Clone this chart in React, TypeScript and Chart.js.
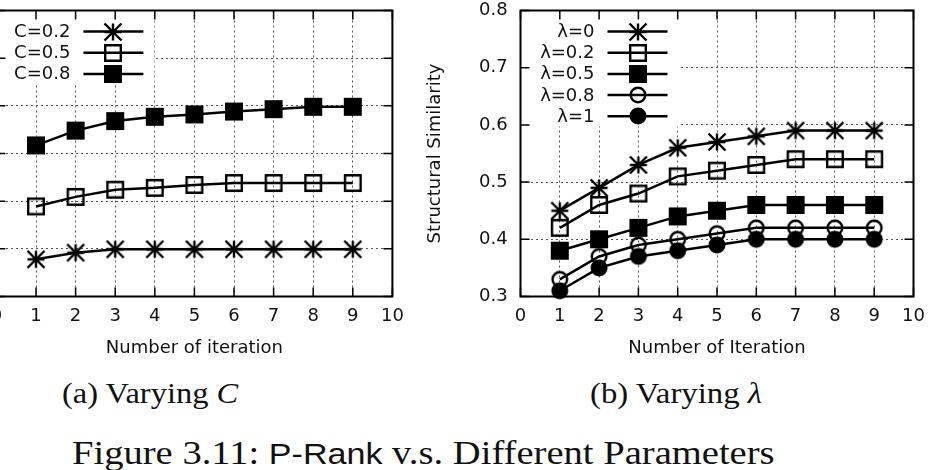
import React, { useEffect, useRef } from "react";
import { Chart, registerables } from "chart.js";

Chart.register(...registerables);
Chart.defaults.font.family = '"DejaVu Sans", sans-serif';
Chart.defaults.font.size = 18;
Chart.defaults.color = "#111";

// ---- data ----
const iterations = [1, 2, 3, 4, 5, 6, 7, 8, 9];
const iterationTicks = [0, 1, 2, 3, 4, 5, 6, 7, 8, 9, 10];

// (a) varying the decay factor C
const decayLabels = ["C=0.2", "C=0.5", "C=0.8"];
const simDecay02 = [0.278, 0.292, 0.299, 0.299, 0.299, 0.299, 0.299, 0.299, 0.299];
const simDecay05 = [0.389, 0.409, 0.424, 0.428, 0.434, 0.438, 0.438, 0.438, 0.438];
const simDecay08 = [0.517, 0.548, 0.568, 0.577, 0.582, 0.588, 0.593, 0.598, 0.598];
const decayTicks = [0.2, 0.3, 0.4, 0.5, 0.6, 0.7, 0.8];

// (b) varying the in/out-link weight lambda
const lambdaLabels = ["λ=0", "λ=0.2", "λ=0.5", "λ=0.8", "λ=1"];
const simLambda0 = [0.45, 0.49, 0.53, 0.56, 0.57, 0.58, 0.59, 0.59, 0.59];
const simLambda02 = [0.42, 0.46, 0.48, 0.51, 0.52, 0.53, 0.54, 0.54, 0.54];
const simLambda05 = [0.38, 0.4, 0.42, 0.44, 0.45, 0.46, 0.46, 0.46, 0.46];
const simLambda08 = [0.33, 0.37, 0.39, 0.4, 0.41, 0.42, 0.42, 0.42, 0.42];
const simLambda1 = [0.31, 0.35, 0.37, 0.38, 0.39, 0.4, 0.4, 0.4, 0.4];
const lambdaTicks = [0.3, 0.4, 0.5, 0.6, 0.7, 0.8];

// ---- gnuplot-like point symbols ----
type Marker = "star" | "box" | "boxFilled" | "ring" | "disc";

function markerImage(kind: Marker): HTMLCanvasElement {
  const size = 26;
  const c = size / 2;
  const cv = document.createElement("canvas");
  cv.width = size;
  cv.height = size;
  const g = cv.getContext("2d")!;
  g.strokeStyle = "#000";
  g.fillStyle = "#000";
  g.lineWidth = 2.4;
  g.beginPath();
  if (kind === "star") {
    const s = 8.5;
    g.moveTo(c - s, c);
    g.lineTo(c + s, c);
    g.moveTo(c, c - s);
    g.lineTo(c, c + s);
    g.moveTo(c - s, c - s);
    g.lineTo(c + s, c + s);
    g.moveTo(c - s, c + s);
    g.lineTo(c + s, c - s);
    g.stroke();
  } else if (kind === "box" || kind === "boxFilled") {
    const h = 7.8;
    g.rect(c - h, c - h, 2 * h, 2 * h);
    if (kind === "boxFilled") g.fill();
    g.stroke();
  } else {
    const r = 7.3;
    g.arc(c, c, r, 0, Math.PI * 2);
    if (kind === "disc") g.fill();
    g.stroke();
  }
  return cv;
}

// ---- frame, inward ticks and key, drawn the way gnuplot does ----
const ROW = 21.2;
const gnuplotFrame = {
  id: "gnuplotFrame",
  beforeDatasetsDraw(chart: any, _args: any, opts: any) {
    const { ctx, chartArea: a, scales } = chart;
    ctx.save();
    // the key area blanks the grid underneath it
    ctx.fillStyle = "#fff";
    ctx.fillRect(a.left, a.top, opts.keyWidth, opts.keyRows * ROW + 10);
    // inward tick marks on all four sides
    ctx.strokeStyle = "#000";
    ctx.lineWidth = 1.5;
    ctx.beginPath();
    const t = 9;
    for (const tk of scales.x.ticks) {
      const px = scales.x.getPixelForValue(tk.value);
      ctx.moveTo(px, a.bottom);
      ctx.lineTo(px, a.bottom - t);
      ctx.moveTo(px, a.top);
      ctx.lineTo(px, a.top + t);
    }
    for (const tk of scales.y.ticks) {
      const py = scales.y.getPixelForValue(tk.value);
      ctx.moveTo(a.left, py);
      ctx.lineTo(a.left + t, py);
      ctx.moveTo(a.right, py);
      ctx.lineTo(a.right - t, py);
    }
    ctx.stroke();
    ctx.lineWidth = 2;
    ctx.strokeRect(a.left, a.top, a.right - a.left, a.bottom - a.top);
    ctx.restore();
  },
  afterDatasetsDraw(chart: any) {
    const { ctx, chartArea: a } = chart;
    ctx.save();
    ctx.font = '18px "DejaVu Sans", sans-serif';
    ctx.textAlign = "right";
    ctx.textBaseline = "middle";
    chart.data.datasets.forEach((ds: any, i: number) => {
      const y = a.top + 21 + i * ROW;
      ctx.fillStyle = "#111";
      ctx.fillText(ds.label, a.left + 74, y + 0.8);
      ctx.strokeStyle = "#000";
      ctx.lineWidth = 2.5;
      ctx.beginPath();
      ctx.moveTo(a.left + 87, y);
      ctx.lineTo(a.left + 147, y);
      ctx.stroke();
      const img = ds.pointStyle as HTMLCanvasElement;
      ctx.drawImage(img, Math.round(a.left + 117 - img.width / 2), Math.round(y - img.height / 2));
    });
    ctx.restore();
  },
};

interface PanelProps {
  pageLeft: number;
  width: number;
  height: number;
  plotLeft: number;
  plotRight: number;
  plotTop: number;
  plotBottom: number;
  labels: string[];
  series: number[][];
  markers: Marker[];
  yTicks: number[];
  xTitle: string;
  yTitle?: string;
}

function Panel(p: PanelProps) {
  const ref = useRef<HTMLCanvasElement>(null);
  useEffect(() => {
    const canvas = ref.current!;
    const gridStyle = { color: "#555", lineWidth: 1, drawTicks: false };
    const chart = new Chart(canvas, {
      type: "line",
      data: {
        datasets: p.series.map((vals, i) => ({
          label: p.labels[i],
          data: iterations.map((x, j) => ({ x, y: vals[j] })),
          borderColor: "#000",
          borderWidth: 2.5,
          pointStyle: markerImage(p.markers[i]),
          pointRadius: 8,
          tension: 0,
          fill: false,
          clip: false,
        })),
      },
      options: {
        responsive: false,
        animation: false,
        events: [],
        layout: { padding: { left: 0, top: p.plotTop, right: p.width - p.plotRight, bottom: 0 } },
        plugins: {
          legend: { display: false },
          tooltip: { enabled: false },
          gnuplotFrame: { keyRows: p.labels.length, keyWidth: 158 },
        } as any,
        scales: {
          x: {
            type: "linear",
            min: iterationTicks[0],
            max: iterationTicks[iterationTicks.length - 1],
            afterBuildTicks: (s: any) => {
              s.ticks = iterationTicks.map((v) => ({ value: v }));
            },
            afterFit: (s: any) => {
              s.height = p.height - p.plotBottom;
              s.paddingLeft = 0;
              s.paddingRight = 0;
            },
            ticks: { padding: 9, autoSkip: false, maxRotation: 0, callback: (v: any) => String(v) },
            grid: gridStyle,
            border: { display: false, dash: [2, 3] },
            title: { display: true, text: p.xTitle, padding: { top: 0, bottom: 15.4 } },
          },
          y: {
            type: "linear",
            min: p.yTicks[0],
            max: p.yTicks[p.yTicks.length - 1],
            afterBuildTicks: (s: any) => {
              s.ticks = p.yTicks.map((v) => ({ value: v }));
            },
            afterFit: (s: any) => {
              s.width = p.plotLeft;
              s.paddingTop = 0;
              s.paddingBottom = 0;
            },
            ticks: { padding: 12.8, autoSkip: false, callback: (v: any) => Number(v).toFixed(1) },
            grid: gridStyle,
            border: { display: false, dash: [2, 3] },
            title: { display: !!p.yTitle, text: p.yTitle || "", padding: { top: 12.2, bottom: 0 } },
          },
        },
      } as any,
      plugins: [gnuplotFrame],
    });
    return () => chart.destroy();
  }, []);
  return (
    <div style={{ position: "absolute", left: p.pageLeft, top: 0 }}>
      <canvas ref={ref} width={p.width} height={p.height} style={{ display: "block", width: p.width, height: p.height }} />
    </div>
  );
}

const serif = '"Liberation Serif", "DejaVu Serif", serif';

export default function App() {
  return (
    <div style={{ position: "absolute", left: 0, top: 0, width: 928, height: 470, overflow: "hidden", background: "#fff" }}>
      <Panel
        pageLeft={-70}
        width={480}
        height={375}
        plotLeft={66.4}
        plotRight={462.4}
        plotTop={5.7}
        plotBottom={296.5}
        labels={decayLabels}
        series={[simDecay02, simDecay05, simDecay08]}
        markers={["star", "box", "boxFilled"]}
        yTicks={decayTicks}
        xTitle="Number of iteration"
      />
      <Panel
        pageLeft={412}
        width={516}
        height={375}
        plotLeft={108.5}
        plotRight={501.5}
        plotTop={5.7}
        plotBottom={296.5}
        labels={lambdaLabels}
        series={[simLambda0, simLambda02, simLambda05, simLambda08, simLambda1]}
        markers={["star", "box", "boxFilled", "ring", "disc"]}
        yTicks={lambdaTicks}
        xTitle="Number of Iteration"
        yTitle="Structural Similarity"
      />
      <div style={{ position: "absolute", left: 62, top: 378.7, fontFamily: serif, fontSize: 29, lineHeight: 1, whiteSpace: "nowrap", color: "#111", transform: "scaleX(1.12)", transformOrigin: "0 0" }}>
        (a) Varying <i>C</i>
      </div>
      <div style={{ position: "absolute", left: 590, top: 378.7, fontFamily: serif, fontSize: 29, lineHeight: 1, whiteSpace: "nowrap", color: "#111", transform: "scaleX(1.13)", transformOrigin: "0 0" }}>
        (b) Varying <i>λ</i>
      </div>
      <div style={{ position: "absolute", left: 72, top: 435.8, fontFamily: serif, fontSize: 34, lineHeight: 1, whiteSpace: "nowrap", color: "#111", transform: "scaleX(1.135)", transformOrigin: "0 0" }}>
        Figure 3.11: <span style={{ fontFamily: '"Liberation Sans", sans-serif', fontSize: 30 }}>P-Rank</span> v.s. Different Parameters
      </div>
    </div>
  );
}
